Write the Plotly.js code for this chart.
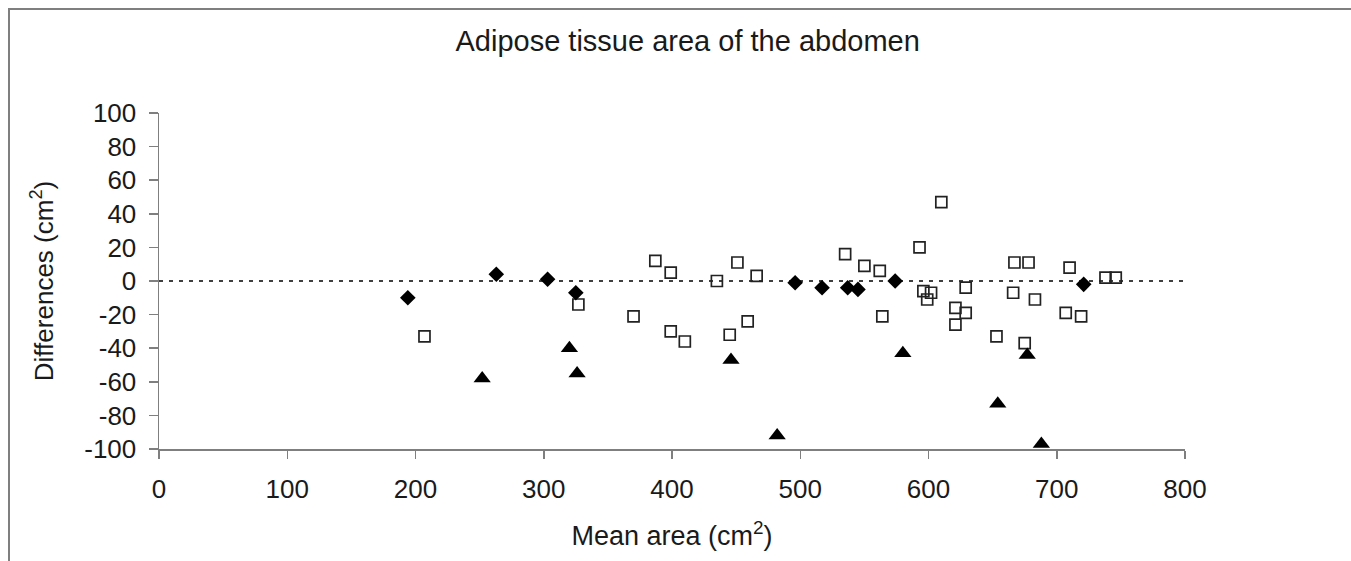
<!DOCTYPE html>
<html>
<head>
<meta charset="utf-8">
<script src="https://cdn.plot.ly/plotly-3.0.1.min.js"></script>
<style>
  html, body { margin: 0; padding: 0; background: #fff; }
  #wrap { position: relative; width: 1351px; height: 561px; overflow: hidden; }
  #chart { position: absolute; left: 0; top: 0; width: 1351px; height: 561px; }
  #frame { position: absolute; left: 8px; top: 8px; width: 1400px; height: 600px;
           border-top: 2px solid #7f7f7f; border-left: 2px solid #7f7f7f; pointer-events: none; }
</style>
</head>
<body>
<div id="wrap">
  <div id="chart"></div>
  <div id="frame"></div>
</div>
<script>
// Open squares
const squareX = [207, 327, 370, 387, 399, 399, 410, 435, 445, 451, 459, 466, 535, 550, 562, 564, 593, 596, 599, 602, 610, 621, 621, 629, 629, 653, 666, 667, 675, 678, 683, 707, 710, 719, 738, 746];
const squareY = [-33, -14, -21, 12, 5, -30, -36, 0, -32, 11, -24, 3, 16, 9, 6, -21, 20, -6, -11, -7, 47, -16, -26, -19, -4, -33, -7, 11, -37, 11, -11, -19, 8, -21, 2, 2];
// Filled diamonds
const diamondX = [194, 263, 303, 325, 496, 517, 537, 545, 574, 721];
const diamondY = [-10, 4, 1, -7, -1, -4, -4, -5, 0, -2];
// Filled triangles
const triangleX = [252, 320, 326, 446, 482, 580, 654, 677, 688];
const triangleY = [-58, -40, -55, -47, -92, -43, -73, -44, -97];
// Reference line (zero difference)
const refLineX = [0, 800];
const refLineY = [0, 0];

// Tick labels
const xTickVals = [0, 100, 200, 300, 400, 500, 600, 700, 800];
const xTickText = ['0', '100', '200', '300', '400', '500', '600', '700', '800'];
const yTickVals = [-100, -80, -60, -40, -20, 0, 20, 40, 60, 80, 100];
const yTickText = ['-100', '-80', '-60', '-40', '-20', '0', '20', '40', '60', '80', '100'];

const chartTitle = 'Adipose tissue area of the abdomen';
const xTitle = 'Mean area (cm<sup>2</sup>)';
const yTitle = 'Differences (cm<sup>2</sup>)';

const FONT = 'Liberation Sans, Arial, sans-serif';
const TXT = '#1a1a1a';

const traces = [
  {
    x: refLineX, y: refLineY, type: 'scatter', mode: 'lines',
    line: { color: '#000', width: 1.3, dash: '4px,6px' },
    hoverinfo: 'skip', showlegend: false
  },
  {
    x: squareX, y: squareY, type: 'scatter', mode: 'markers',
    marker: { symbol: 'square-open', size: 11, color: '#222', line: { color: '#222', width: 1.7 } },
    showlegend: false
  },
  {
    x: diamondX, y: diamondY, type: 'scatter', mode: 'markers',
    marker: { symbol: 'diamond', size: 12, color: '#000' },
    showlegend: false
  },
  {
    x: triangleX, y: triangleY, type: 'scatter', mode: 'markers',
    marker: { symbol: 'triangle-up', size: 15, color: '#000' },
    showlegend: false
  }
];

const layout = {
  width: 1351, height: 561,
  paper_bgcolor: '#fff', plot_bgcolor: '#fff',
  margin: { l: 159, r: 166, t: 113, b: 112 },
  font: { family: FONT, color: TXT, size: 26 },
  title: {
    text: chartTitle,
    font: { family: FONT, size: 29, color: TXT },
    x: 0.509, xref: 'container', xanchor: 'center',
    y: 1 - 41 / 561, yref: 'container', yanchor: 'middle'
  },
  xaxis: {
    range: [0, 800], tickmode: 'array', tickvals: xTickVals, ticktext: xTickText,
    showgrid: false, zeroline: false,
    showline: true, linecolor: '#7f7f7f', linewidth: 1.5,
    ticks: 'outside', ticklen: 8, tickcolor: '#7f7f7f', tickwidth: 1.5,
    ticklabelstandoff: 8,
    tickfont: { family: FONT, size: 26, color: TXT },
    title: { text: xTitle, font: { family: FONT, size: 27, color: TXT }, standoff: 23 },
    fixedrange: true
  },
  yaxis: {
    range: [-100, 100], tickmode: 'array', tickvals: yTickVals, ticktext: yTickText,
    showgrid: false, zeroline: false,
    showline: true, linecolor: '#7f7f7f', linewidth: 1.5,
    ticks: 'outside', ticklen: 9, tickcolor: '#7f7f7f', tickwidth: 1.5,
    ticklabelstandoff: 7,
    tickfont: { family: FONT, size: 26, color: TXT },
    title: { text: yTitle, font: { family: FONT, size: 26, color: TXT }, standoff: 23 },
    fixedrange: true
  },
  showlegend: false
};

Plotly.newPlot('chart', traces, layout, { displayModeBar: false, staticPlot: true });
</script>
</body>
</html>
